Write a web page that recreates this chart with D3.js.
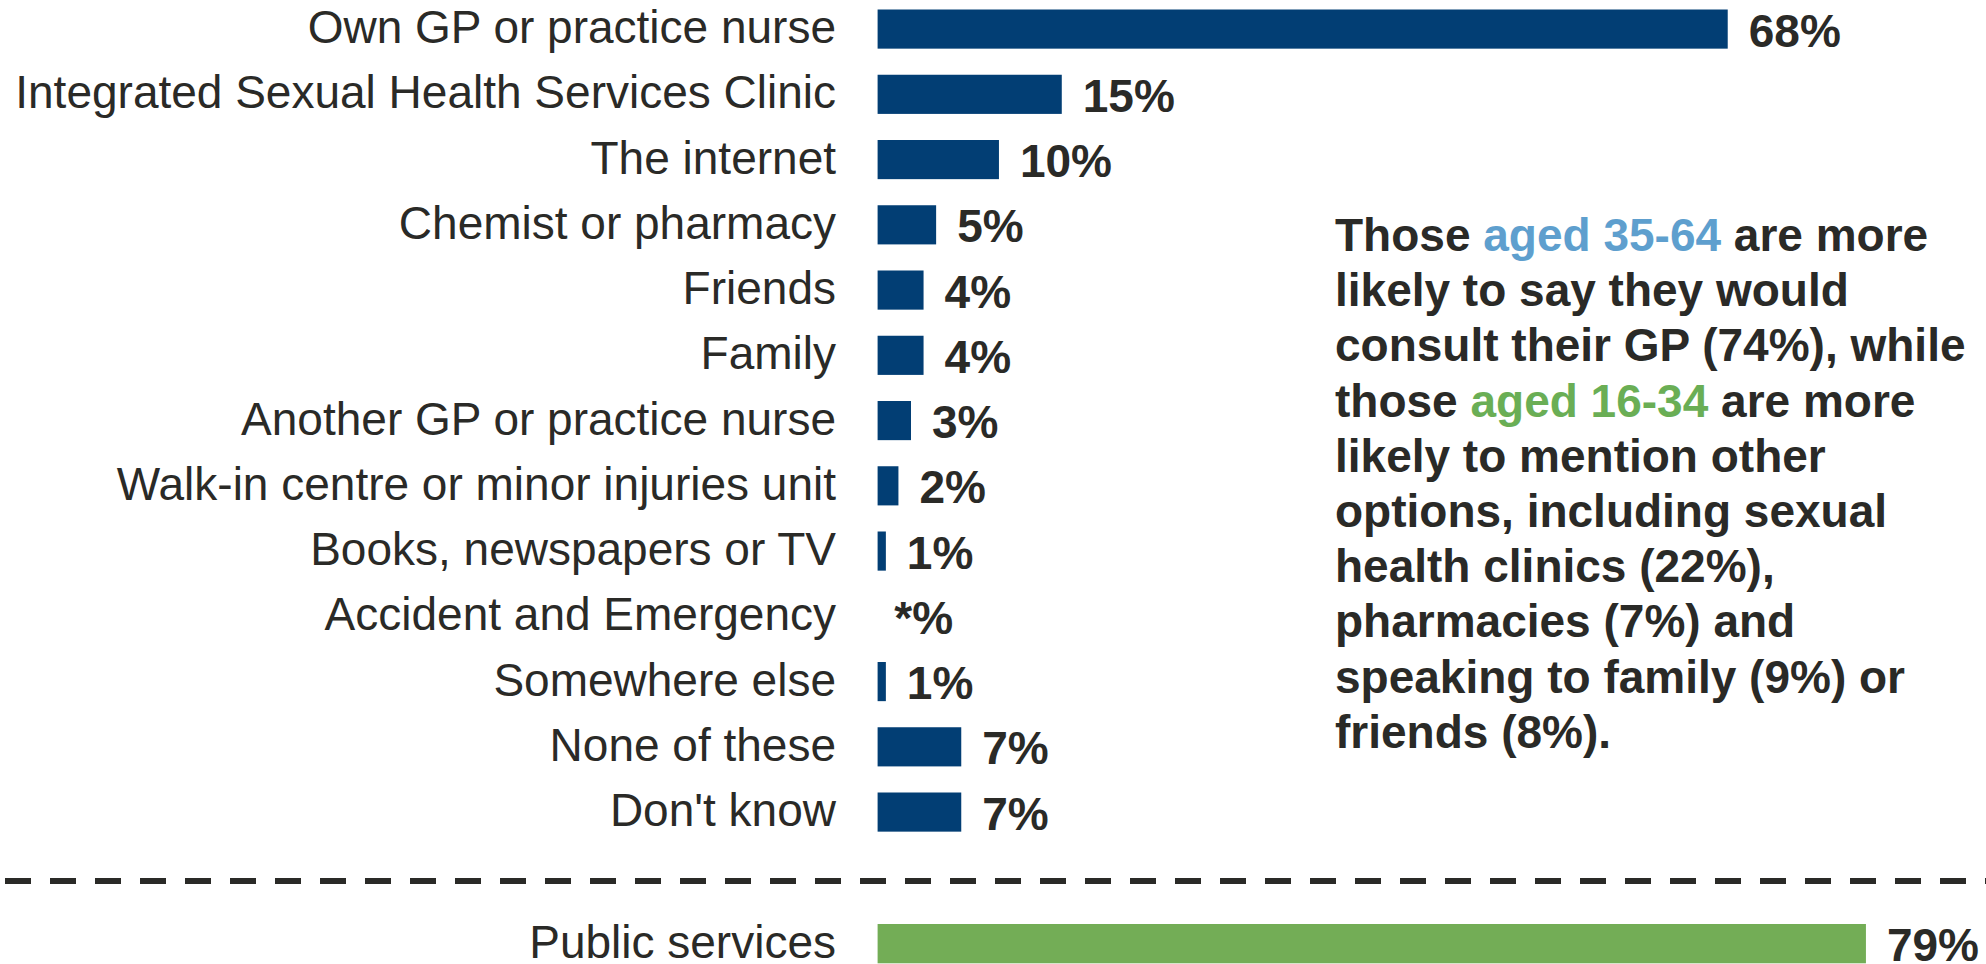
<!DOCTYPE html>
<html>
<head>
<meta charset="utf-8">
<script src="https://cdn.jsdelivr.net/npm/d3@7"></script>
<style>
  html, body { margin: 0; padding: 0; background: #ffffff; }
  svg { display: block; }
</style>
</head>
<body>
<svg id="chart" width="1986" height="964"></svg>
<script>
// Where people would go for advice: share of respondents per source
const categories = [
  "Own GP or practice nurse",
  "Integrated Sexual Health Services Clinic",
  "The internet",
  "Chemist or pharmacy",
  "Friends",
  "Family",
  "Another GP or practice nurse",
  "Walk-in centre or minor injuries unit",
  "Books, newspapers or TV",
  "Accident and Emergency",
  "Somewhere else",
  "None of these",
  "Don't know"
];
const values = [68, 15, 10, 5, 4, 4, 3, 2, 1, 0, 1, 7, 7];
const valueLabels = ["68%", "15%", "10%", "5%", "4%", "4%", "3%", "2%", "1%", "*%", "1%", "7%", "7%"];

// Net figure shown below the divider
const netCategories = ["Public services"];
const netValues = [79];
const netLabels = ["79%"];

// Side note, one entry per line; each line is a list of [text, colour key]
const noteLines = [
  [["Those ", "t"], ["aged 35-64", "blue"], [" are more", "t"]],
  [["likely to say they would", "t"]],
  [["consult their GP (74%), while", "t"]],
  [["those ", "t"], ["aged 16-34", "green"], [" are more", "t"]],
  [["likely to mention other", "t"]],
  [["options, including sexual", "t"]],
  [["health clinics (22%),", "t"]],
  [["pharmacies (7%) and", "t"]],
  [["speaking to family (9%) or", "t"]],
  [["friends (8%).", "t"]]
];

const colors = {
  bar: "#023e74",
  net: "#73ad56",
  t: "#2a2a27",
  blue: "#5e9fce",
  green: "#6aae55"
};

const font = "'Liberation Sans', Arial, Helvetica, sans-serif";
const svg = d3.select("#chart");

// Horizontal value scale (percent)
const x = d3.scaleLinear().domain([0, 100]).range([873.3, 2129.8]);
const barInset = 4.3;
const labelRight = 836;
const valueGap = 21;

// Vertical band scale for the main list
const y = d3.scaleBand()
  .domain(categories)
  .range([-3.55, 844.7])
  .paddingInner(0.4)
  .paddingOuter(0.2);

const rows = categories.map((c, i) => ({ c, v: values[i], lab: valueLabels[i] }));

const g = svg.append("g");

g.selectAll("rect.bar")
  .data(rows)
  .join("rect")
  .attr("class", "bar")
  .attr("x", x(0) + barInset)
  .attr("y", d => y(d.c))
  .attr("width", d => Math.max(0, x(d.v) - x(0) - barInset))
  .attr("height", y.bandwidth())
  .attr("fill", colors.bar);

g.selectAll("text.cat")
  .data(rows)
  .join("text")
  .attr("class", "cat")
  .attr("x", labelRight)
  .attr("y", d => y(d.c) + y.bandwidth() / 2 + 14)
  .attr("text-anchor", "end")
  .attr("font-family", font)
  .attr("font-size", 46)
  .attr("fill", colors.t)
  .text(d => d.c);

g.selectAll("text.val")
  .data(rows)
  .join("text")
  .attr("class", "val")
  .attr("x", d => x(d.v) + valueGap)
  .attr("y", d => y(d.c) + y.bandwidth() / 2 + 17.5)
  .attr("font-family", font)
  .attr("font-size", 46)
  .attr("font-weight", "bold")
  .attr("fill", colors.t)
  .text(d => d.lab);

// Dashed divider
svg.append("line")
  .attr("x1", 5).attr("x2", 1986)
  .attr("y1", 881).attr("y2", 881)
  .attr("stroke", "#2a2a27")
  .attr("stroke-width", 6)
  .attr("stroke-dasharray", "26,19");

// Net bar
const yNet = d3.scaleBand()
  .domain(netCategories)
  .range([924, 963.3])
  .padding(0);

const netRows = netCategories.map((c, i) => ({ c, v: netValues[i], lab: netLabels[i] }));

const gn = svg.append("g");
gn.selectAll("rect")
  .data(netRows)
  .join("rect")
  .attr("x", x(0) + barInset)
  .attr("y", d => yNet(d.c))
  .attr("width", d => x(d.v) - x(0) - barInset)
  .attr("height", yNet.bandwidth())
  .attr("fill", colors.net);

gn.selectAll("text.cat")
  .data(netRows)
  .join("text")
  .attr("class", "cat")
  .attr("x", labelRight)
  .attr("y", d => yNet(d.c) + yNet.bandwidth() / 2 + 14)
  .attr("text-anchor", "end")
  .attr("font-family", font)
  .attr("font-size", 46)
  .attr("fill", colors.t)
  .text(d => d.c);

gn.selectAll("text.val")
  .data(netRows)
  .join("text")
  .attr("class", "val")
  .attr("x", d => x(d.v) + valueGap)
  .attr("y", d => yNet(d.c) + yNet.bandwidth() / 2 + 17.5)
  .attr("font-family", font)
  .attr("font-size", 46)
  .attr("font-weight", "bold")
  .attr("fill", colors.t)
  .text(d => d.lab);

// Side note text block
const note = svg.append("text")
  .attr("font-family", font)
  .attr("font-size", 46)
  .attr("font-weight", "bold")
  .attr("fill", colors.t);

noteLines.forEach((line, i) => {
  const t = note.append("tspan")
    .attr("x", 1335)
    .attr("y", 251 + i * 55.2);
  line.forEach(([txt, key], j) => {
    const s = j === 0 ? t : note.append("tspan");
    s.attr("fill", colors[key]).text(txt);
  });
});
</script>
</body>
</html>
